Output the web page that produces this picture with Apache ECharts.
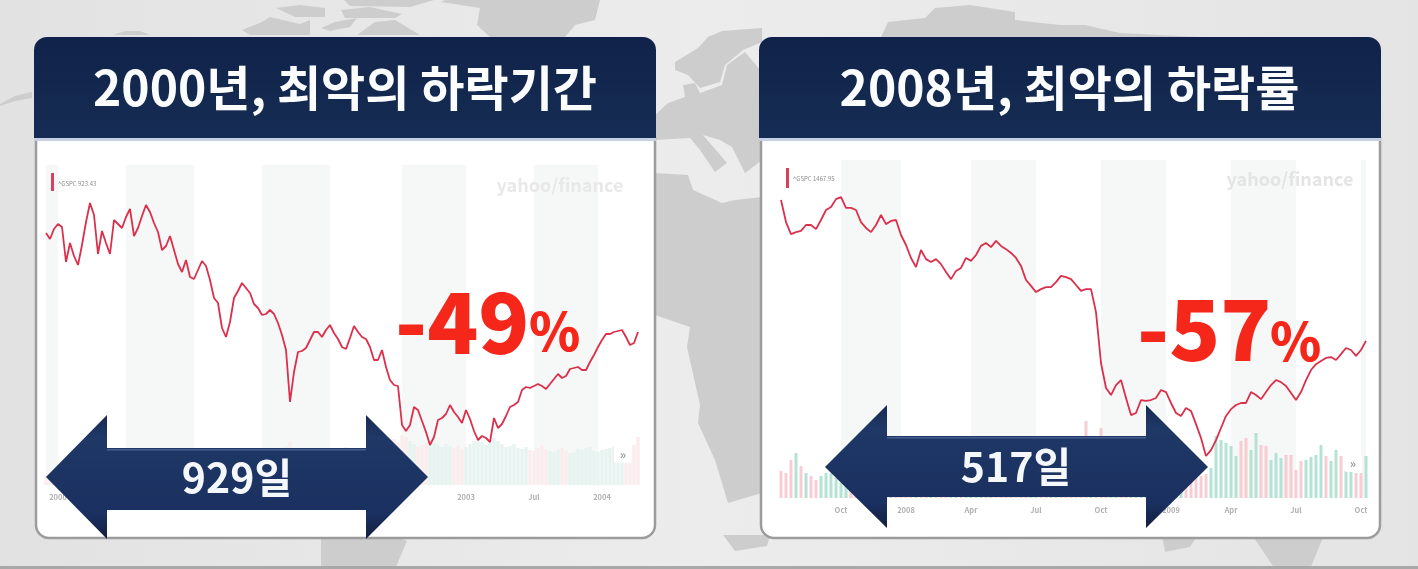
<!DOCTYPE html>
<html><head><meta charset="utf-8">
<style>html,body{margin:0;padding:0;background:#e8e8e8;overflow:hidden}#c{width:1418px;height:569px;filter:blur(0.6px)}</style>
<script src="https://cdn.jsdelivr.net/npm/echarts@6/dist/echarts.min.js"></script>
</head><body><div id="c"></div>
<script>
// ---- chart data (S&P 500 closes) ----
const leftClose = [1431,1413,1443,1458,1449,1344,1401,1362,1335,1395,1464,1521,1485,1368,1437,1401,1368,1470,1458,1446,1479,1503,1422,1446,1482,1515,1494,1461,1434,1380,1392,1422,1380,1338,1314,1350,1299,1293,1320,1347,1332,1290,1236,1221,1146,1119,1164,1236,1257,1281,1266,1251,1218,1206,1185,1188,1200,1188,1161,1125,1080,924,1014,1074,1077,1086,1110,1134,1134,1119,1140,1155,1131,1113,1089,1083,1116,1152,1134,1119,1113,1089,1050,1050,1080,1029,990,975,972,855,837,855,909,900,867,834,795,819,870,876,888,915,894,879,861,900,873,837,810,822,816,804,876,846,858,882,909,915,924,960,969,966,972,978,972,963,978,993,1008,996,1002,1023,1026,1029,1020,1020,1044,1065,1089,1110,1128,1128,1134,1137,1140,1119,1095,1101,1134];
const rightClose = [1555,1480,1439,1446,1450,1470,1470,1456,1487,1521,1531,1558,1565,1528,1528,1521,1480,1460,1446,1470,1504,1473,1484,1487,1436,1402,1358,1327,1385,1354,1344,1354,1337,1310,1286,1314,1324,1358,1348,1368,1399,1409,1395,1416,1399,1388,1375,1358,1331,1283,1263,1242,1252,1259,1259,1276,1297,1293,1286,1266,1246,1252,1252,1174,1001,916,892,926,943,882,824,831,875,872,875,882,909,902,865,831,821,848,838,793,746,685,705,739,780,821,844,858,865,865,902,892,878,902,926,943,936,923,899,875,902,943,977,997,1008,1018,1021,1011,1031,1052,1045,1025,1045,1076];
const leftVolume = [10,9,11,12,10,12,14,11,10,12,13,15,12,11,10,12,14,11,12,13,15,14,13,16,14,15,17,15,16,18,16,15,17,18,20,19,22,24,22,20,23,25,24,26,28,27,25,24,26,25,24,27,26,28,30,29,32,31,34,36,38,44,36,33,32,34,33,30,31,34,33,35,34,36,35,38,37,36,34,33,36,38,40,39,41,44,48,46,42,50,48,44,41,38,40,43,45,42,40,38,41,39,37,40,36,38,41,44,46,43,40,42,47,44,41,38,39,41,37,36,38,35,34,37,40,36,34,33,35,37,34,32,33,36,35,37,38,34,33,35,36,37,38,36,34,33,36,40,48];
const leftVolumeUp = [0,0,1,0,1,0,1,0,0,1,1,1,0,0,1,0,0,1,0,0,1,1,0,1,1,1,0,0,0,0,1,1,0,0,0,1,0,0,1,1,0,0,0,0,0,0,1,1,1,1,0,0,0,0,0,1,1,0,0,0,0,0,1,1,1,1,1,1,0,0,1,1,0,0,0,0,1,1,0,0,0,0,0,0,1,0,0,0,0,0,0,1,1,0,0,0,1,1,1,1,1,1,0,0,0,1,1,1,1,1,1,1,1,1,1,1,1,1,1,1,1,0,0,0,0,0,1,1,1,0,0,1,1,1,1,1,1,1,1,1,1,1,1,1,1,0,0,0,0];
const rightVolume = [27,25,38,45,32,25,22,18,22,25,25,20,15,24,26,30,28,26,24,27,30,32,35,30,38,36,34,42,44,38,36,33,30,32,34,31,36,38,35,33,30,28,26,27,25,28,30,32,36,40,38,42,36,30,28,26,25,27,30,34,44,77,50,48,70,52,46,44,42,48,50,46,40,38,36,34,30,30,28,25,25,25,26,22,22,24,30,62,58,55,52,42,57,60,48,65,53,52,38,45,40,43,43,28,37,38,41,43,53,42,37,48,42,33,33,25,25,42];
const rightVolumeUp = [0,0,0,1,0,1,0,0,1,1,1,1,1,1,0,0,0,0,1,1,0,0,1,0,0,0,0,1,0,0,1,0,0,0,1,1,0,1,1,1,1,0,1,0,0,0,0,0,0,0,1,1,0,0,1,1,0,0,0,0,0,0,1,0,0,0,1,1,0,0,1,1,1,1,1,1,0,0,0,0,1,0,0,0,0,0,1,1,1,1,1,1,0,0,1,1,0,0,1,1,1,0,0,0,0,1,1,1,1,0,1,1,0,1,1,0,0,1];
const leftTickIndex = [3,20,37,54,71,88,105,122,139];
const leftTickLabels = ['2000','Jul','2001','Jul','2002','Jul','2003','Jul','2004'];
const rightTickIndex = [12,25,38,51,64,78,90,103,116];
const rightTickLabels = ['Oct','2008','Apr','Jul','Oct','2009','Apr','Jul','Oct'];
const leftBands = [[0,3],[20,37],[54,71],[89,105],[122,138]];
const rightBands = [[12,24],[38,51],[64,77],[90,103],[116,117]];
const titles = ['2000년, 최악의 하락기간','2008년, 최악의 하락률'];
const drops = ['-49','-57'];
const spans = ['929일','517일'];
const legends = ['^GSPC 923.43','^GSPC 1467.95'];

// ---- decoration ----
const FONT = '"Noto Sans CJK KR","Noto Sans",sans-serif';
const LINE = '#dc2f4b', UP = '#b4e3d5', DOWN = '#f7ccd2';
const map = [
 [[113,35],[125,31],[140,31],[150,35]],
 [[276,8],[300,5],[325,8],[325,17],[295,17]],
 [[242,30],[262,22],[270,17],[300,24],[310,20],[310,35],[250,35]],
 [[321,28],[335,22],[357,18],[350,27],[330,31]],
 [[341,10],[370,7],[402,14],[395,18],[345,18]],
 [[357,35],[375,22],[395,20],[420,35]],
 [[344,0],[434,0],[410,7],[350,6]],
 [[441,2],[480,8],[477,25],[490,37],[565,37],[575,25],[595,20],[600,0],[445,0]],
 [[0,104],[15,96],[32,92],[32,98],[15,101],[0,106]],
 [[675,62],[698,48],[708,37],[722,31],[762,28],[762,42],[743,50],[725,65],[720,82],[700,88],[688,75],[675,70]],
 [[655,115],[668,103],[685,97],[683,85],[695,83],[700,93],[722,85],[727,65],[745,52],[762,72],[762,160],[745,173],[732,147],[720,140],[703,135],[727,163],[715,172],[700,150],[690,138],[655,140]],
 [[655,173],[688,175],[693,190],[722,203],[735,200],[762,197],[762,493],[745,498],[728,503],[715,460],[698,423],[700,405],[687,347],[690,327],[655,315]],
 [[881,37],[888,22],[925,18],[935,8],[970,5],[1015,12],[1015,20],[1060,25],[1085,25],[1120,33],[1200,37]],
 [[321,535],[393,535],[407,541],[395,569],[321,569]],
 [[723,535],[770,535],[767,546],[735,551]],
 [[1162,535],[1198,535],[1190,547],[1165,552]],
 [[1252,535],[1324,535],[1310,569],[1275,569]]
];
function arrow(tipL, baseL, baseR, tipR, cy, headTop, headBot, shaftTop, shaftBot) {
  return {type:'polygon', z:100, shape:{points:[[tipL,cy],[baseL,headTop],[baseL,shaftTop],[baseR,shaftTop],[baseR,headTop],[tipR,cy],[baseR,headBot],[baseR,shaftBot],[baseL,shaftBot],[baseL,headBot]]},
    style:{fill:{type:'linear',x:0,y:0,x2:0,y2:1,colorStops:[{offset:0,color:'#1a2a52'},{offset:.18,color:'#1f3866'},{offset:.8,color:'#1a3060'},{offset:1,color:'#141f3e'}]}}};
}
function text(x,y,t,size,color,weight,align,z){
  return {type:'text',z:z||101,x:x,y:y,style:{text:t,fontSize:size,fill:color,fontWeight:weight||'bold',fontFamily:FONT,align:align||'center',verticalAlign:'middle'}};
}
function panel(x,w){
  return [
   {type:'rect',z:-5,shape:{x:x,y:138,width:w,height:400,r:[0,0,13,13]},style:{fill:'#fff',stroke:'#9c9c9c',lineWidth:2.5}},
   {type:'rect',z:90,shape:{x:x-2,y:37,width:w+3,height:101,r:[13,13,0,0]},style:{fill:{type:'linear',x:0,y:0,x2:0,y2:1,colorStops:[{offset:0,color:'#10224a'},{offset:.6,color:'#14294f'},{offset:1,color:'#152c55'}]}}},
   {type:'rect',z:91,shape:{x:x-2,y:138,width:w+3,height:3},style:{fill:'#c6d0e4'}}
  ];
}
const graphicEls = [
 {type:'rect',z:-10,shape:{x:0,y:0,width:1418,height:569},style:{fill:{type:'linear',x:0,y:0,x2:1,y2:0,colorStops:[{offset:0,color:'#e2e2e2'},{offset:.5,color:'#ececec'},{offset:1,color:'#e4e4e4'}]}}},
 ...map.map(p=>({type:'polygon',z:-9,shape:{points:p},style:{fill:'#cdcdcd'}})),
 {type:'rect',z:-8,shape:{x:0,y:566,width:1418,height:3},style:{fill:'#a8a8a8'}},
 ...panel(36,619),...panel(761,619),
 text(345,88,titles[0],48,'#fbfcfe','bold','center',95),
 text(1069.5,88,titles[1],48,'#fbfcfe','bold','center',95),
 // legend chips
 {type:'rect',z:20,shape:{x:51,y:173,width:3,height:18},style:{fill:'#d8405c'}},
 text(58,184,legends[0],6,'#8d8d8d','normal','left',20),
 {type:'rect',z:20,shape:{x:786,y:168,width:3,height:20},style:{fill:'#d8405c'}},
 text(793,179,legends[1],6,'#8d8d8d','normal','left',20),
 // watermark
 text(560,185,'yahoo/finance',18,'#e8e8e8','bold','center',4),
 text(1290,179,'yahoo/finance',18,'#e4e4e4','bold','center',4),
 // scroll buttons
 {type:'rect',z:20,shape:{x:614,y:445,width:18,height:18,r:3},style:{fill:'#fff'}},
 text(623,454,'»',12,'#9a9a9a','bold','center',21),
 {type:'rect',z:20,shape:{x:1344,y:454,width:18,height:18,r:3},style:{fill:'#fff'}},
 text(1353,463,'»',12,'#9a9a9a','bold','center',21),
 // arrows
 arrow(46,107,366,428,477,415,539,448,510),
 arrow(825,887,1146,1208,467,405,528,436,497),
 {type:'rect',z:101,shape:{x:107,y:449,width:259,height:1.5},style:{fill:'#5f78a6',opacity:.6}},
 {type:'rect',z:101,shape:{x:887,y:437,width:259,height:1.5},style:{fill:'#5f78a6',opacity:.6}},
 text(237,477,spans[0],41,'#f4f7fb','bold','center',102),
 text(1016,466,spans[1],41,'#f4f7fb','bold','center',102),
 // drop labels
 text(395,322,drops[0],84,'#f5261a','900','left',80),
 text(529,331,'%',52,'#f5261a','900','left',80),
 text(1137,329,drops[1],84,'#f5261a','900','left',80),
 text(1270,341,'%',52,'#f5261a','900','left',80)
];

// ---- chart ----
function xAxis(grid, n, idx, labels){
  return {type:'category',gridIndex:grid,data:Array.from({length:n},(_, i)=>String(i)),boundaryGap:false,
    axisLine:{show:false},axisTick:{show:false},splitLine:{show:false},
    axisLabel:{interval:(i)=>idx.includes(i),margin:8,fontSize:7.5,color:'#b0b0b0',fontWeight:'bold',fontFamily:FONT,
      formatter:(v,i)=>labels[idx.indexOf(Number(v))]||''}};
}
function yHidden(grid,min,max){return {type:'value',gridIndex:grid,min:min,max:max,show:false,splitLine:{show:false}};}
function lineS(axis,data,bands){
  return {type:'line',xAxisIndex:axis,yAxisIndex:axis*2,data:data,showSymbol:false,symbol:'none',smooth:false,z:5,
    lineStyle:{color:LINE,width:1.8},
    markArea:{silent:true,itemStyle:{color:'#f6f7f7'},data:bands.map(b=>[{xAxis:String(b[0])},{xAxis:String(b[1])}])}};
}
function barS(axis,data,up,u,d){
  return {type:'bar',xAxisIndex:axis,yAxisIndex:axis*2+1,barWidth:axis?3:3.4,z:3,
    data:data.map((v,i)=>({value:v,itemStyle:{color:up[i]?u:d}}))};
}
const chart = echarts.init(document.getElementById('c'),null,{width:1418,height:569});
chart.setOption({
  animation:false,
  backgroundColor:'transparent',
  grid:[{left:46,top:165,width:592,height:320},{left:781,top:160,width:585,height:338}],
  xAxis:[xAxis(0,leftClose.length,leftTickIndex,leftTickLabels),xAxis(1,rightClose.length,rightTickIndex,rightTickLabels)],
  yAxis:[yHidden(0,675,1635),yHidden(0,0,320),yHidden(1,542,1691),yHidden(1,0,338)],
  series:[lineS(0,leftClose,leftBands),barS(0,leftVolume,leftVolumeUp,'#e6f3ef','#fbecee'),
          lineS(1,rightClose,rightBands),barS(1,rightVolume,rightVolumeUp,UP,DOWN)],
  graphic:{elements:graphicEls}
});
</script></body></html>
